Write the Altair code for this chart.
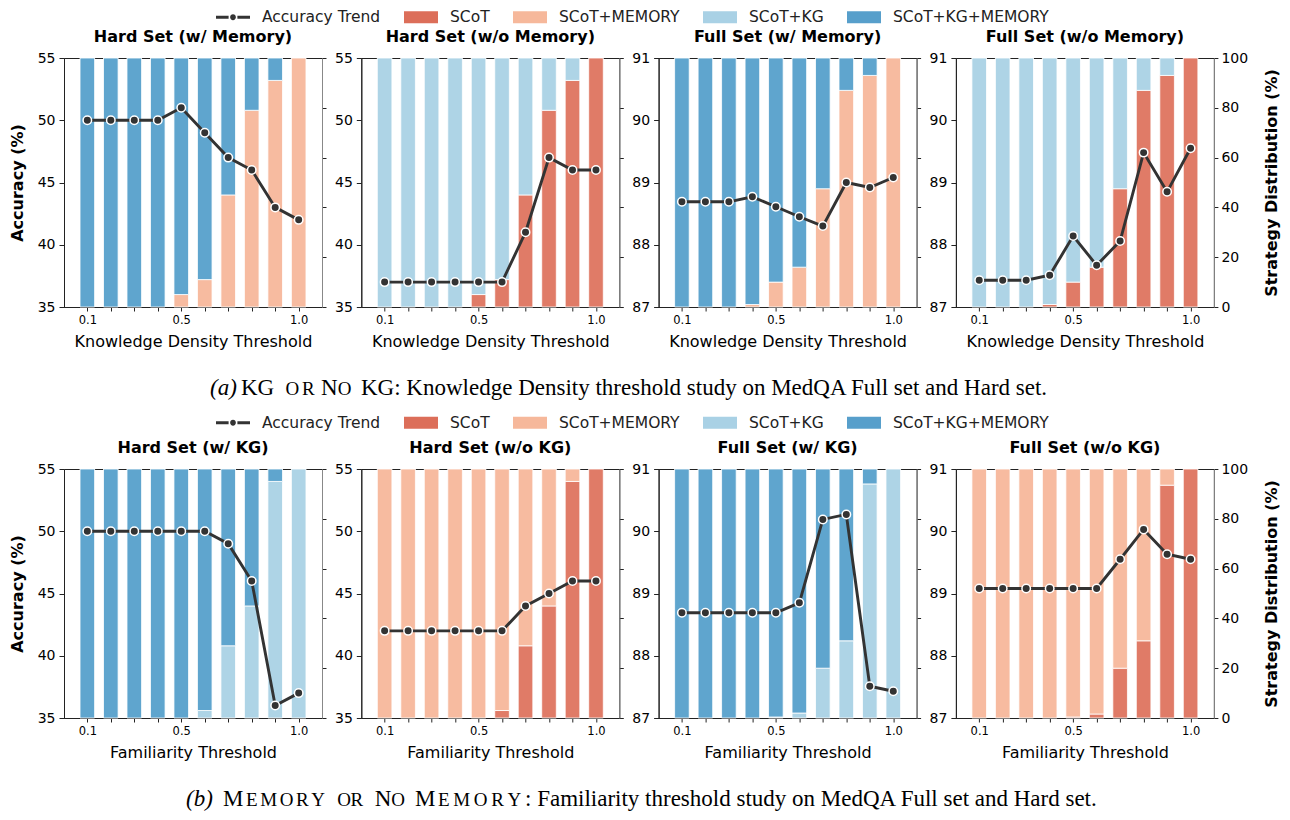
import altair as alt
import pandas as pd

# ---------------- data ----------------
thresholds = [0.1, 0.2, 0.3, 0.4, 0.5, 0.6, 0.7, 0.8, 0.9, 1.0]
x_tick_labels = ["0.1", "0.5", "1.0"]
hard_ticks = [35, 40, 45, 50, 55]
full_ticks = [87, 88, 89, 90, 91]
dist_ticks = [0, 20, 40, 60, 80, 100]

strategies = ["SCoT", "SCoT+MEMORY", "SCoT+KG", "SCoT+KG+MEMORY"]
bar_colors = ["#e07b67", "#f7bba0", "#aed4e6", "#5fa5ce"]
legend_items = ["Accuracy Trend", "SCoT", "SCoT+MEMORY", "SCoT+KG", "SCoT+KG+MEMORY"]
legend_colors = ["#333333", "#dc6e59", "#f6b89b", "#a9d1e5", "#579fcb"]

# (a) Knowledge Density threshold study
kd_hard_mem_acc = [50, 50, 50, 50, 51, 49, 47, 46, 43, 42]
kd_hard_mem_scot_memory = [0, 0, 0, 0, 5, 11, 45, 79, 91, 100]      # rest: SCoT+KG+MEMORY
kd_hard_nomem_acc = [37, 37, 37, 37, 37, 37, 41, 47, 46, 46]
kd_hard_nomem_scot = [0, 0, 0, 0, 5, 11, 45, 79, 91, 100]           # rest: SCoT+KG
kd_full_mem_acc = [88.69, 88.69, 88.69, 88.77, 88.61, 88.45, 88.30, 89.00, 88.92, 89.08]
kd_full_mem_scot_memory = [0, 0, 0, 1, 10, 16, 47.5, 87, 93, 100]   # rest: SCoT+KG+MEMORY
kd_full_nomem_acc = [87.43, 87.43, 87.43, 87.51, 88.14, 87.67, 88.06, 89.48, 88.85, 89.55]
kd_full_nomem_scot = [0, 0, 0, 1, 10, 16, 47.5, 87, 93, 100]        # rest: SCoT+KG

# (b) Familiarity threshold study
fm_hard_kg_acc = [50, 50, 50, 50, 50, 50, 49, 46, 36, 37]
fm_hard_kg_scot_kg = [0, 0, 0, 0, 0, 3, 29, 45, 95, 100]            # rest: SCoT+KG+MEMORY
fm_hard_nokg_acc = [42, 42, 42, 42, 42, 42, 44, 45, 46, 46]
fm_hard_nokg_scot = [0, 0, 0, 0, 0, 3, 29, 45, 95, 100]             # rest: SCoT+MEMORY
fm_full_kg_acc = [88.69, 88.69, 88.69, 88.69, 88.69, 88.85, 90.19, 90.27, 87.51, 87.43]
fm_full_kg_scot_kg = [0, 0, 0, 0, 0.4, 2, 20, 31, 94, 100]          # rest: SCoT+KG+MEMORY
fm_full_nokg_acc = [89.08, 89.08, 89.08, 89.08, 89.08, 89.08, 89.55, 90.03, 89.63, 89.55]
fm_full_nokg_scot = [0, 0, 0, 0, 0.4, 1.6, 20, 31, 93.5, 100]       # rest: SCoT+MEMORY

caption_a_parts = ["(a)", "KG", "OR", "N", "O",
                   "KG: Knowledge Density threshold study on MedQA Full set and Hard set."]
caption_b_parts = ["(b)", "M", "EMORY", "OR", "N", "O", "M", "EMORY",
                   ": Familiarity threshold study on MedQA Full set and Hard set."]

# ---------------- layout constants ----------------
PANEL_W = 258
PANEL_H = 249
GAP = 39.3
ROW_GAP = 162
X_DOMAIN = [0.022, 1.078]
BAR_W = 14.6
FONT = "DejaVu Sans"
SERIF = "Liberation Serif"
CAP = 23
SC = 19
TIMES_W = {"E": 0.611, "M": 0.889, "O": 0.722, "R": 0.667, "Y": 0.722, "N": 0.722}

rect_path = "M-2.125,-0.75L2.125,-0.75L2.125,0.75L-2.125,0.75Z"
line_path = ("M-2.125,-0.19L-0.55,-0.19L-0.55,0.19L-2.125,0.19Z "
             "M0.55,-0.19L2.125,-0.19L2.125,0.19L0.55,0.19Z "
             "M-0.36,0A0.36,0.36,0,1,0,0.36,0A0.36,0.36,0,1,0,-0.36,0Z")
legend_shapes = [line_path, rect_path, rect_path, rect_path, rect_path]

label_expr = "indexof([" + ",".join("'%s'" % s for s in x_tick_labels) + "], datum.label) >= 0 ? datum.label : ''"
anchor_df = pd.DataFrame({"n": [0]})


def piece(s, x, y, size, style="normal", align="left", font=SERIF, weight="normal"):
    return alt.Chart(anchor_df).mark_text(font=font, fontSize=size, fontStyle=style, fontWeight=weight,
                                          align=align, baseline="alphabetic", color="black").encode(
        x=alt.value(x), y=alt.value(y), text=alt.value(s))


def small_caps(word, x0, x1, y, size=SC):
    widths = [TIMES_W[c] * size for c in word]
    extra = (x1 - x0 - sum(widths)) / len(word)
    x = x0 + extra / 2
    out = []
    for c, w in zip(word, widths):
        out.append(piece(c, x, y, size))
        x += w + extra
    return out


def legend_layer(y0):
    df = pd.DataFrame({"item": legend_items})
    leg = alt.Legend(orient="none", legendX=152, legendY=y0, direction="horizontal", columns=5,
                     title=None, labelFont=FONT, labelFontSize=15.5, labelColor="#222", labelLimit=400,
                     symbolSize=256, symbolOffset=9, labelOffset=21, symbolStrokeWidth=0,
                     symbolOpacity=1, columnPadding=23, padding=0)
    return alt.Chart(df).mark_point(filled=True, clip=True, opacity=1).encode(
        x=alt.value(-300), y=alt.value(-300),
        color=alt.Color("item:N", sort=legend_items,
                        scale=alt.Scale(domain=legend_items, range=legend_colors), legend=leg),
        shape=alt.Shape("item:N", sort=legend_items,
                        scale=alt.Scale(domain=legend_items, range=legend_shapes), legend=leg),
    )


def panel(title, xtitle, acc, acc_ticks, bottom_vals, bottom_name, top_name, first=False, last=False,
          extras=()):
    rows = []
    for t, b in zip(thresholds, bottom_vals):
        if b > 0:
            rows.append({"t": t, "strategy": bottom_name, "pct": b, "k": 0})
        if 100 - b > 0:
            rows.append({"t": t, "strategy": top_name, "pct": 100 - b, "k": 1})
    bar_df = pd.DataFrame(rows)
    acc_df = pd.DataFrame({"t": thresholds, "acc": acc})

    x_enc = alt.X(
        "t:Q",
        scale=alt.Scale(domain=X_DOMAIN, nice=False, zero=False),
        axis=alt.Axis(values=thresholds, format=".1f", labelExpr=label_expr, title=xtitle,
                      tickSize=4, tickColor="#222", domainColor="#222", labelFontSize=11.5,
                      labelPadding=3, titleFontSize=16, titleFontWeight="normal", titlePadding=8,
                      labelFlush=False, labelOverlap=False, grid=False),
    )
    right_kw = dict(orient="right", values=dist_ticks, labels=last, tickSize=4, tickColor="#222",
                    domainColor="#888", labelFontSize=14, labelPadding=3, grid=False)
    if last:
        right_kw.update(title="Strategy Distribution (%)", titleFontSize=16, titleFontWeight="bold",
                        titleAngle=270, titleBaseline="top", titlePadding=16)
    else:
        right_kw.update(title=None)
    left_kw = dict(orient="left", values=acc_ticks, tickSize=5, tickColor="#222", domainColor="#222",
                   labelFontSize=14, labelPadding=4, grid=False)
    if first:
        left_kw.update(title="Accuracy (%)", titleFontSize=16, titleFontWeight="bold", titlePadding=12)
    else:
        left_kw.update(title=None)

    bars = alt.Chart(bar_df).mark_bar(size=BAR_W, stroke="white", strokeWidth=0.8, orient="vertical").encode(
        x=x_enc,
        y=alt.Y("pct:Q", stack="zero", scale=alt.Scale(domain=[0, 100], nice=False), axis=alt.Axis(**right_kw)),
        color=alt.Color("strategy:N", scale=alt.Scale(domain=strategies, range=bar_colors), legend=None),
        order=alt.Order("k:Q", sort="ascending"),
    )
    y_acc = alt.Y("acc:Q", scale=alt.Scale(domain=[acc_ticks[0], acc_ticks[-1]], nice=False, zero=False),
                  axis=alt.Axis(**left_kw))
    line = alt.Chart(acc_df).mark_line(color="#333333", strokeWidth=2.9).encode(x=x_enc, y=y_acc)
    dots = alt.Chart(acc_df).mark_circle(color="#333333", opacity=1, size=72, stroke="white",
                                         strokeWidth=1.5).encode(x=x_enc, y=y_acc)
    head = piece(title, PANEL_W / 2, -16.5, 16, align="center", font=FONT, weight="bold")
    return alt.layer(bars, alt.layer(line, dots), head, *extras).resolve_scale(
        y="independent", color="independent", shape="independent").properties(
        width=PANEL_W, height=PANEL_H,
        view=alt.ViewBackground(stroke="#222", strokeWidth=1),
    )


xa = "Knowledge Density Threshold"
xb = "Familiarity Threshold"

ya = 337
a = caption_a_parts
extras_a = [legend_layer(-49),
            piece(a[0], 146, ya, CAP, "italic"),
            piece(a[1], 177, ya, CAP),
            *small_caps(a[2], 220, 252, ya),
            piece(a[3], 257, ya, CAP),
            *small_caps(a[4], 274, 287, ya),
            piece(a[5], 297, ya, CAP)]

yb = 337
b = caption_b_parts
extras_b = [legend_layer(-54.5),
            piece(b[0], 122, yb, CAP, "italic"),
            piece(b[1], 159, yb, CAP),
            *small_caps(b[2], 180.7, 262.3, yb),
            *small_caps(b[3], 273.3, 299, yb),
            piece(b[4], 310.7, yb, CAP),
            *small_caps(b[5], 327.3, 340.7, yb),
            piece(b[6], 351, yb, CAP),
            *small_caps(b[7], 372.3, 459, yb),
            piece(b[8], 461, yb, CAP)]

panels = [
    panel("Hard Set (w/ Memory)", xa, kd_hard_mem_acc, hard_ticks, kd_hard_mem_scot_memory,
          "SCoT+MEMORY", "SCoT+KG+MEMORY", first=True, extras=extras_a),
    panel("Hard Set (w/o Memory)", xa, kd_hard_nomem_acc, hard_ticks, kd_hard_nomem_scot, "SCoT", "SCoT+KG"),
    panel("Full Set (w/ Memory)", xa, kd_full_mem_acc, full_ticks, kd_full_mem_scot_memory,
          "SCoT+MEMORY", "SCoT+KG+MEMORY"),
    panel("Full Set (w/o Memory)", xa, kd_full_nomem_acc, full_ticks, kd_full_nomem_scot, "SCoT", "SCoT+KG",
          last=True),
    panel("Hard Set (w/ KG)", xb, fm_hard_kg_acc, hard_ticks, fm_hard_kg_scot_kg,
          "SCoT+KG", "SCoT+KG+MEMORY", first=True, extras=extras_b),
    panel("Hard Set (w/o KG)", xb, fm_hard_nokg_acc, hard_ticks, fm_hard_nokg_scot, "SCoT", "SCoT+MEMORY"),
    panel("Full Set (w/ KG)", xb, fm_full_kg_acc, full_ticks, fm_full_kg_scot_kg, "SCoT+KG", "SCoT+KG+MEMORY"),
    panel("Full Set (w/o KG)", xb, fm_full_nokg_acc, full_ticks, fm_full_nokg_scot, "SCoT", "SCoT+MEMORY",
          last=True),
]

chart = alt.concat(*panels, columns=4, spacing={"row": ROW_GAP, "column": GAP}, bounds="flush").resolve_scale(
    color="independent", shape="independent"
).resolve_legend(
    color="independent", shape="independent"
).properties(padding=0).configure_view(stroke="transparent").configure_axis(
    labelFont=FONT, titleFont=FONT, labelColor="#222", titleColor="#111"
).configure(font=FONT)

chart.save("out.html", embed_options={"renderer": "svg", "actions": False})
